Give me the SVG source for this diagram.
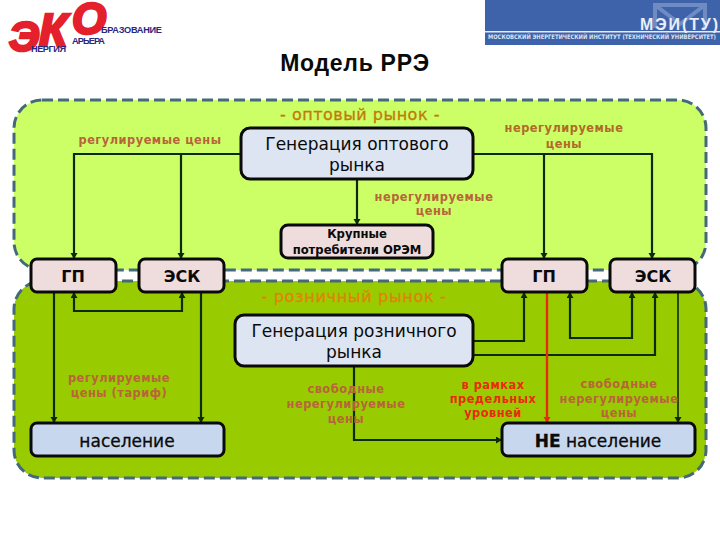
<svg xmlns="http://www.w3.org/2000/svg" width="720" height="540" viewBox="0 0 720 540">
<style>
text{font-family:"DejaVu Sans","Liberation Sans",sans-serif;text-anchor:middle}
.panel{stroke:#44697a;stroke-width:3;stroke-dasharray:11 5}
.n{stroke:#0a0a0a;stroke-width:3}
.pink{fill:#efdcdc}
.blue{fill:#dce5f1}
.blue2{fill:#c7d7ee}
.t{fill:#0a0a0a;font-size:17px}
.tb{fill:#0a0a0a;font-size:16px;font-weight:bold}
.s{fill:#0a0a0a;font-size:11.6px;font-weight:bold}
.lab{fill:#b8643a;font-size:11.4px;font-weight:bold;letter-spacing:.5px}
.lab2{fill:#b06a28;font-size:11.4px;font-weight:bold;letter-spacing:.5px}
.r{fill:#ea2a10;font-size:11.4px;font-weight:bold;letter-spacing:.5px}
.c{fill:none;stroke:#0c2a0c;stroke-width:2.2}
.a{marker-end:url(#h)}
.logo{fill:#e3202c;stroke:#e3202c;stroke-width:2.6;font-family:"Liberation Sans",sans-serif;font-weight:bold;font-style:italic;text-anchor:start}
.ln{fill:#27277f;font-family:"Liberation Sans",sans-serif;font-size:9.2px;font-weight:bold;text-anchor:start}
</style>
<defs>
<marker id="h" markerUnits="userSpaceOnUse" markerWidth="8" markerHeight="8" refX="6" refY="3.5" orient="auto"><path d="M0 0L6 3.5L0 7z" fill="#0c2a0c"/></marker>
<marker id="hr" markerUnits="userSpaceOnUse" markerWidth="8" markerHeight="8" refX="6" refY="3.5" orient="auto"><path d="M0 0L6 3.5L0 7z" fill="#ea2a10"/></marker>
</defs>
<rect width="720" height="540" fill="#fff"/>
<g id="logo-eko">
<text class="logo" x="9" y="51" font-size="42">Э</text>
<text class="logo" x="39" y="46" font-size="46">К</text>
<text class="logo" x="72" y="34" font-size="44">О</text>
<text class="ln" x="101" y="33" textLength="61">БРАЗОВАНИЕ</text>
<text class="ln" x="72" y="44" textLength="33">АРЬЕРА</text>
<text class="ln" x="31" y="52" textLength="35">НЕРГИЯ</text>
</g>
<g id="logo-mei">
<rect x="485" y="0" width="235" height="45" fill="#3f63ab"/>
<path d="M655 28V5H705V28M655 5L680 24L705 5" fill="none" stroke="#6e8cc2" stroke-width="4"/>
<rect x="485" y="31" width="235" height="1.5" fill="#e4ecf6"/>
<text x="679" y="30" font-size="16" font-weight="bold" fill="#e8eef8" textLength="78" style="font-family:'Liberation Sans',sans-serif">МЭИ(ТУ)</text>
<text x="602" y="39" font-size="6.2" font-weight="bold" fill="#d8e2f2" textLength="228" lengthAdjust="spacingAndGlyphs">МОСКОВСКИЙ ЭНЕРГЕТИЧЕСКИЙ ИНСТИТУТ (ТЕХНИЧЕСКИЙ УНИВЕРСИТЕТ)</text>
</g>
<text x="355" y="71" font-size="23" font-weight="bold" fill="#0a0a0a" style="font-family:'Liberation Sans',sans-serif" letter-spacing=".7">Модель РРЭ</text>
<g id="panel-wholesale"><rect class="panel" x="14" y="100" width="692" height="170" rx="28" fill="#ccff66"/>
<text x="360" y="120" font-size="16" fill="#c07a08" letter-spacing=".5" stroke="#c07a08" stroke-width=".3">- оптовый рынок -</text></g>
<g id="panel-retail"><rect class="panel" x="14" y="281" width="692" height="197" rx="28" fill="#99cc00"/>
<text x="354" y="302" font-size="16" fill="#e0820a" letter-spacing=".7" stroke="#e0820a" stroke-width=".3">- розничный рынок -</text></g>
<g id="connectors">
<path class="c a" d="M241 154H74V259"/>
<path class="c a" d="M181 154V259"/>
<path class="c a" d="M473 154H652V259"/>
<path class="c a" d="M544 154V259"/>
<path class="c a" d="M357 179V225"/>
<path class="c a" d="M128 311H74V292"/>
<path class="c a" d="M128 311H182V292"/>
<path class="c a" d="M54 292V423"/>
<path class="c a" d="M201 292V423"/>
<path class="c a" d="M354 366V440H502"/>
<path class="c a" d="M473 341H524V292"/>
<path class="c a" d="M473 355H655V292"/>
<path class="c a" d="M600 338H570V292"/>
<path class="c a" d="M600 338H632V292"/>
<path class="c" style="stroke-width:1.6" d="M678 292V360"/>
<path class="c a" style="stroke-width:1.6" d="M678 360V423"/>
<path d="M547 292V423" fill="none" stroke="#ea2a10" stroke-width="2.4" marker-end="url(#hr)"/>
</g>
<g id="gen-wholesale"><rect class="n blue" x="241" y="128" width="232" height="51" rx="9"/>
<text class="t" x="357" y="150">Генерация оптового</text><text class="t" x="357" y="171">рынка</text></g>
<g id="large-consumers"><rect class="n pink" x="281" y="225" width="152" height="33" rx="7"/>
<text class="s" x="357" y="238">Крупные</text><text class="s" x="357" y="254">потребители ОРЭМ</text></g>
<g id="gp-left"><rect class="n pink" x="31" y="259" width="85" height="33" rx="6"/><text class="tb" x="73" y="282">ГП</text></g>
<g id="esk-left"><rect class="n pink" x="139" y="259" width="85" height="33" rx="6"/><text class="tb" x="182" y="282">ЭСК</text></g>
<g id="gp-right"><rect class="n pink" x="502" y="259" width="85" height="33" rx="6"/><text class="tb" x="544" y="282">ГП</text></g>
<g id="esk-right"><rect class="n pink" x="610" y="259" width="85" height="33" rx="6"/><text class="tb" x="653" y="282">ЭСК</text></g>
<g id="gen-retail"><rect class="n blue" x="235" y="315" width="238" height="51" rx="9"/>
<text class="t" x="354" y="337">Генерация розничного</text><text class="t" x="354" y="358">рынка</text></g>
<g id="population"><rect class="n blue2" x="31" y="423" width="193" height="33" rx="6"/><text class="t" x="127" y="447" stroke="#0a0a0a" stroke-width=".3">население</text></g>
<g id="non-population"><rect class="n blue2" x="502" y="423" width="193" height="33" rx="6"/><text class="t" x="598" y="447" stroke="#0a0a0a" stroke-width=".3"><tspan font-weight="bold">НЕ</tspan> население</text></g>
<g id="labels">
<text class="lab" x="150" y="144">регулируемые цены</text>
<text class="lab2" x="564" y="132">нерегулируемые</text><text class="lab2" x="564" y="148">цены</text>
<text class="lab" x="434" y="201">нерегулируемые</text><text class="lab" x="434" y="215">цены</text>
<text class="lab" x="119" y="382">регулируемые</text><text class="lab" x="119" y="397">цены (тариф)</text>
<text class="lab" x="346" y="393">свободные</text><text class="lab" x="346" y="408">нерегулируемые</text><text class="lab" x="346" y="423">цены</text>
<text class="r" x="493" y="389">в рамках</text><text class="r" x="493" y="403">предельных</text><text class="r" x="493" y="417">уровней</text>
<text class="lab" x="619" y="388">свободные</text><text class="lab" x="619" y="403">нерегулируемые</text><text class="lab" x="619" y="417">цены</text>
</g>
</svg>
